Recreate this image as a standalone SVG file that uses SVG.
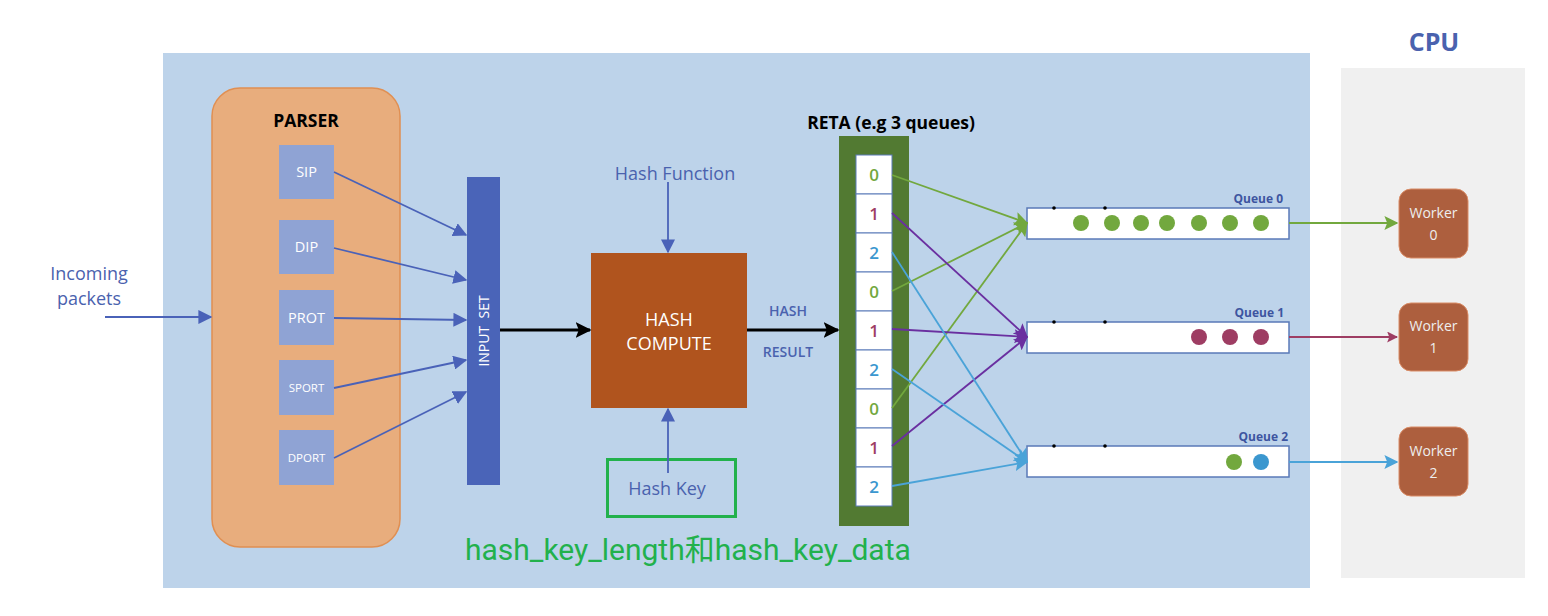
<svg xmlns="http://www.w3.org/2000/svg" width="1548" height="616" viewBox="0 0 1548 616">
<defs>
<style>
.t{font-family:"Open Sans","Liberation Sans",sans-serif}
.blue{fill:#4a62ae}
.wt{fill:#ffffff}
.field{fill:#8fa3d4}
.cell{fill:#ffffff;stroke:#5a7ab8;stroke-width:1}
.q{fill:#ffffff;stroke:#5a7ab8;stroke-width:1.5}
.worker{fill:#ad5f3e;stroke:#d98c66;stroke-width:1}
.g{fill:#72a83e}.m{fill:#9e3d63}.c{fill:#3b97cf}
</style>
<marker id="abl" viewBox="0 0 10 10" refX="9" refY="5" markerWidth="14" markerHeight="14" orient="auto" markerUnits="userSpaceOnUse"><path d="M0,0L10,5L0,10z" fill="#4a62b8"/></marker>
<marker id="ak" viewBox="0 0 10 10" refX="9" refY="5" markerWidth="16" markerHeight="16" orient="auto" markerUnits="userSpaceOnUse"><path d="M0,0L10,5L0,10L2,5z" fill="#000"/></marker>
<marker id="ag" viewBox="0 0 10 10" refX="9" refY="5" markerWidth="14" markerHeight="14" orient="auto" markerUnits="userSpaceOnUse"><path d="M0,0L10,5L0,10L2,5z" fill="#72a83e"/></marker>
<marker id="ap" viewBox="0 0 10 10" refX="9" refY="5" markerWidth="14" markerHeight="14" orient="auto" markerUnits="userSpaceOnUse"><path d="M0,0L10,5L0,10L2,5z" fill="#6a2fa0"/></marker>
<marker id="ac" viewBox="0 0 10 10" refX="9" refY="5" markerWidth="14" markerHeight="14" orient="auto" markerUnits="userSpaceOnUse"><path d="M0,0L10,5L0,10L2,5z" fill="#4aa3d8"/></marker>
<marker id="am" viewBox="0 0 10 10" refX="9" refY="5" markerWidth="11" markerHeight="11" orient="auto" markerUnits="userSpaceOnUse"><path d="M0,0L10,5L0,10L2,5z" fill="#9e3d63"/></marker>
</defs>
<rect width="1548" height="616" fill="#ffffff"/>
<g id="nic-panel"><rect x="163" y="53" width="1147" height="535" fill="#bdd3ea"/></g>
<g id="cpu-panel"><rect x="1341" y="68" width="184" height="510" fill="#f0f0f0"/>
<text class="t" x="1434" y="51" font-size="25" font-weight="bold" fill="#4a62ae" text-anchor="middle">CPU</text></g>

<g id="incoming"><text class="t blue" x="89" y="280" font-size="18" text-anchor="middle">Incoming</text><text class="t blue" x="89" y="305" font-size="18" text-anchor="middle">packets</text></g>

<g id="parser">
<rect x="212" y="88" width="188" height="459" rx="28" fill="#e8ad7d" stroke="#e08f52" stroke-width="1.5"/>
<text class="t" x="306" y="127" font-size="17.5" font-weight="bold" fill="#000" text-anchor="middle">PARSER</text>
</g>
<g id="sip"><rect class="field" x="279" y="145" width="55" height="54"/><text class="t wt" x="306.5" y="177" font-size="14.5" text-anchor="middle">SIP</text></g>
<g id="dip"><rect class="field" x="279" y="220" width="55" height="54"/><text class="t wt" x="306.5" y="252" font-size="14.5" text-anchor="middle">DIP</text></g>
<g id="prot"><rect class="field" x="279" y="290" width="55" height="55"/><text class="t wt" x="306.5" y="323" font-size="14.5" text-anchor="middle">PROT</text></g>
<g id="sport"><rect class="field" x="279" y="360" width="55" height="55"/><text class="t wt" x="306.5" y="392" font-size="11.5" text-anchor="middle">SPORT</text></g>
<g id="dport"><rect class="field" x="279" y="430" width="55" height="55"/><text class="t wt" x="306.5" y="462" font-size="11.5" text-anchor="middle">DPORT</text></g>

<g id="input-set"><rect x="467" y="177" width="33" height="308" fill="#4a64b8"/>
<text class="t wt" transform="translate(489,331) rotate(-90)" font-size="14" text-anchor="middle" xml:space="preserve">INPUT  SET</text></g>

<g id="hash-compute"><rect x="591" y="253" width="156" height="155" fill="#b0541e"/>
<text class="t wt" x="669" y="326" font-size="18" text-anchor="middle">HASH</text>
<text class="t wt" x="669" y="350" font-size="18" text-anchor="middle">COMPUTE</text></g>

<g id="hash-function"><text class="t blue" x="675" y="180" font-size="18" text-anchor="middle">Hash Function</text></g>
<g id="hash-key"><rect x="607.5" y="459.5" width="128" height="57" fill="none" stroke="#22b14c" stroke-width="3"/>
<text class="t blue" x="667" y="495" font-size="18" text-anchor="middle">Hash Key</text></g>
<g id="note"><text x="465" y="560" font-family="Roboto,'Noto Sans CJK SC',sans-serif" font-size="30" fill="#22b14c">hash_key_length和hash_key_data</text></g>

<g id="hash-result"><text class="t blue" x="788" y="316" font-size="14" font-weight="600" text-anchor="middle">HASH</text><text class="t blue" x="788" y="357" font-size="14" font-weight="600" text-anchor="middle">RESULT</text></g>

<g id="reta">
<text class="t" x="891" y="129" font-size="17.5" font-weight="bold" fill="#000" text-anchor="middle">RETA (e.g 3 queues)</text>
<rect x="839" y="136" width="70" height="390" fill="#527a32"/>
<rect class="cell" x="856" y="155" width="36" height="39"/>
<rect class="cell" x="856" y="194" width="36" height="39"/>
<rect class="cell" x="856" y="233" width="36" height="39"/>
<rect class="cell" x="856" y="272" width="36" height="39"/>
<rect class="cell" x="856" y="311" width="36" height="39"/>
<rect class="cell" x="856" y="350" width="36" height="39"/>
<rect class="cell" x="856" y="389" width="36" height="39"/>
<rect class="cell" x="856" y="428" width="36" height="39"/>
<rect class="cell" x="856" y="467" width="36" height="39"/>
<g class="t" font-size="17" font-weight="600" text-anchor="middle">
<text class="g" x="874" y="181">0</text><text class="m" x="874" y="220">1</text><text class="c" x="874" y="259">2</text>
<text class="g" x="874" y="298">0</text><text class="m" x="874" y="337">1</text><text class="c" x="874" y="376">2</text>
<text class="g" x="874" y="415">0</text><text class="m" x="874" y="454">1</text><text class="c" x="874" y="493">2</text>
</g>
</g>

<g id="queue0"><rect class="q" x="1027" y="208" width="262" height="31"/>
<text class="t" x="1283" y="203" font-size="12" font-weight="bold" fill="#3d55a0" text-anchor="end">Queue 0</text>
<circle cx="1054" cy="208" r="1.8" fill="#000"/><circle cx="1105" cy="208" r="1.8" fill="#000"/>
<g class="g"><circle cx="1081" cy="223" r="8"/><circle cx="1112" cy="223" r="8"/><circle cx="1141" cy="223" r="8"/><circle cx="1167" cy="223" r="8"/><circle cx="1199" cy="223" r="8"/><circle cx="1230" cy="223" r="8"/><circle cx="1261" cy="223" r="8"/></g></g>
<g id="queue1"><rect class="q" x="1027" y="322" width="262" height="31"/>
<text class="t" x="1284" y="317" font-size="12" font-weight="bold" fill="#3d55a0" text-anchor="end">Queue 1</text>
<circle cx="1054" cy="322" r="1.8" fill="#000"/><circle cx="1105" cy="322" r="1.8" fill="#000"/>
<g class="m"><circle cx="1199" cy="337" r="8"/><circle cx="1230" cy="337" r="8"/><circle cx="1261" cy="337" r="8"/></g></g>
<g id="queue2"><rect class="q" x="1027" y="446" width="262" height="31"/>
<text class="t" x="1288" y="441" font-size="12" font-weight="bold" fill="#3d55a0" text-anchor="end">Queue 2</text>
<circle cx="1054" cy="446" r="1.8" fill="#000"/><circle cx="1105" cy="446" r="1.8" fill="#000"/>
<circle class="g" cx="1234" cy="462" r="8"/><circle class="c" cx="1261" cy="462" r="8"/></g>

<g id="worker0"><rect class="worker" x="1399" y="189" width="69" height="69" rx="12"/>
<g class="t" font-size="14" fill="#eeeeee" text-anchor="middle"><text x="1433.5" y="218">Worker</text><text x="1433.5" y="240">0</text></g></g>
<g id="worker1"><rect class="worker" x="1399" y="303" width="69" height="68" rx="12"/>
<g class="t" font-size="14" fill="#eeeeee" text-anchor="middle"><text x="1433.5" y="331">Worker</text><text x="1433.5" y="353">1</text></g></g>
<g id="worker2"><rect class="worker" x="1399" y="427" width="69" height="69" rx="12"/>
<g class="t" font-size="14" fill="#eeeeee" text-anchor="middle"><text x="1433.5" y="456">Worker</text><text x="1433.5" y="478">2</text></g></g>

<g id="connectors" fill="none">
<g stroke="#4a62b8" stroke-width="1.8">
<line x1="105" y1="317" x2="211" y2="317" marker-end="url(#abl)"/>
<line x1="334" y1="172" x2="466" y2="235" marker-end="url(#abl)"/>
<line x1="334" y1="248" x2="466" y2="280" marker-end="url(#abl)"/>
<line x1="334" y1="318" x2="466" y2="320" marker-end="url(#abl)"/>
<line x1="334" y1="388" x2="466" y2="360" marker-end="url(#abl)"/>
<line x1="334" y1="458" x2="466" y2="392" marker-end="url(#abl)"/>
<line x1="668" y1="182" x2="668" y2="252" marker-end="url(#abl)"/>
<line x1="668" y1="473" x2="668" y2="409" marker-end="url(#abl)"/>
</g>
<g stroke="#000" stroke-width="3">
<line x1="500" y1="330" x2="590" y2="330" marker-end="url(#ak)"/>
<line x1="747" y1="330" x2="838" y2="330" marker-end="url(#ak)"/>
</g>
<g stroke="#72a83e" stroke-width="1.8">
<line x1="892" y1="175" x2="1027" y2="223" marker-end="url(#ag)"/>
<line x1="892" y1="291" x2="1027" y2="223" marker-end="url(#ag)"/>
<line x1="892" y1="408" x2="1027" y2="223" marker-end="url(#ag)"/>
<line x1="1289" y1="223" x2="1397" y2="223" marker-end="url(#ag)"/>
</g>
<g stroke="#6a2fa0" stroke-width="1.8">
<line x1="892" y1="213" x2="1027" y2="337" marker-end="url(#ap)"/>
<line x1="892" y1="329" x2="1027" y2="337" marker-end="url(#ap)"/>
<line x1="892" y1="446" x2="1027" y2="337" marker-end="url(#ap)"/>
</g>
<g stroke="#4aa3d8" stroke-width="1.8">
<line x1="892" y1="252" x2="1027" y2="462" marker-end="url(#ac)"/>
<line x1="892" y1="369" x2="1027" y2="462" marker-end="url(#ac)"/>
<line x1="892" y1="486" x2="1027" y2="462" marker-end="url(#ac)"/>
<line x1="1289" y1="462" x2="1397" y2="462" marker-end="url(#ac)"/>
</g>
<line x1="1289" y1="337" x2="1397" y2="337" stroke="#9e3d63" stroke-width="1.8" marker-end="url(#am)"/>
</g>
</svg>
